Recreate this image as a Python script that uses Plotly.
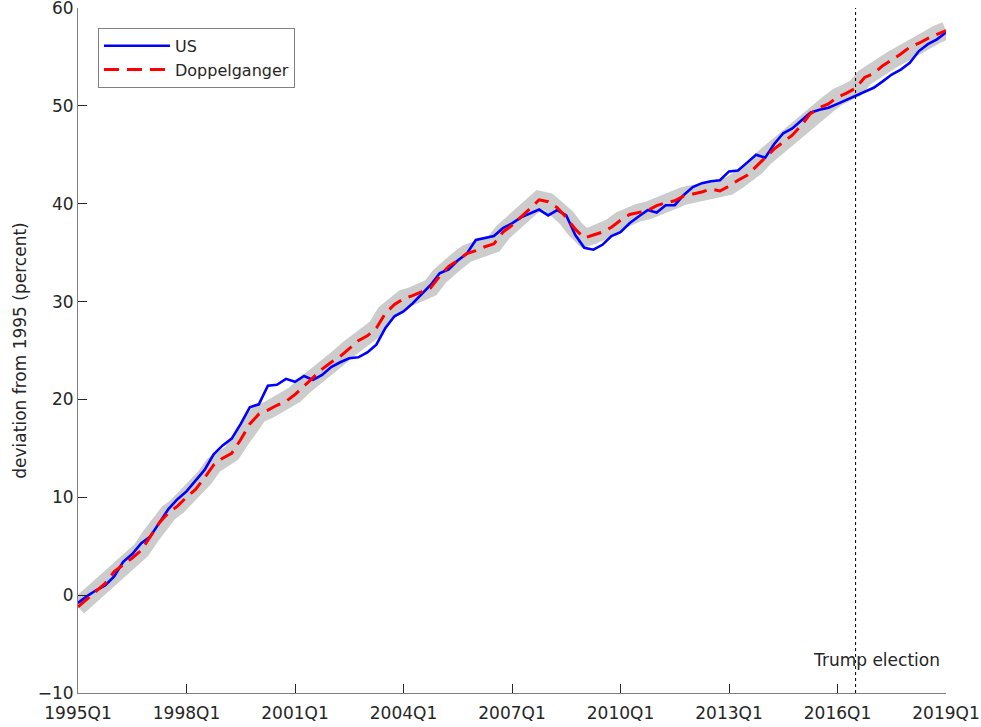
import plotly.graph_objects as go

tick_labels = ["1995Q1", "1998Q1", "2001Q1", "2004Q1", "2007Q1", "2010Q1", "2013Q1", "2016Q1", "2019Q1"]
quarters = list(range(97))  # 1995Q1 .. 2019Q1

us = [-0.8, -0.1, 0.5, 1.0, 1.9, 3.4, 4.2, 5.3, 6.0, 7.4,
      8.8, 9.8, 10.6, 11.7, 12.8, 14.4, 15.3, 16.0, 17.5, 19.2,
      19.5, 21.4, 21.5, 22.1, 21.8, 22.4, 22.0, 22.5, 23.3, 23.8,
      24.2, 24.3, 24.8, 25.6, 27.3, 28.5, 29.0, 29.8, 30.7, 31.7,
      32.9, 33.3, 34.2, 34.9, 36.3, 36.5, 36.7, 37.5, 38.0, 38.6,
      39.0, 39.4, 38.8, 39.35, 38.8, 36.8, 35.5, 35.3, 35.8, 36.7,
      37.1, 38.0, 38.7, 39.35, 39.1, 39.85, 39.85, 40.9, 41.7, 42.1,
      42.3, 42.4, 43.3, 43.4, 44.2, 45.0, 44.7, 46.1, 47.2, 47.7,
      48.5, 49.3, 49.6, 49.8, 50.2, 50.6, 51.0, 51.4, 51.85, 52.5,
      53.2, 53.7, 54.4, 55.6, 56.3, 56.8, 57.5]

doppel = [-1.2, -0.4, 0.5, 1.2, 2.4, 3.1, 3.8, 4.6, 6.0, 7.4,
          8.4, 9.1, 10.0, 10.8, 12.0, 13.3, 14.0, 14.5, 15.9, 17.5,
          18.5, 18.9, 19.4, 19.8, 20.5, 21.4, 22.3, 23.1, 23.8, 24.4,
          25.2, 26.0, 26.5, 27.3, 28.8, 29.7, 30.3, 30.6, 31.0, 31.4,
          32.6, 33.6, 34.2, 34.9, 35.2, 35.6, 35.9, 37.1, 37.8, 38.6,
          39.5, 40.4, 40.2, 39.6, 38.6, 37.4, 36.5, 36.8, 37.1, 37.6,
          38.3, 38.9, 39.1, 39.3, 39.8, 40.1, 40.3, 40.8, 41.0, 41.2,
          41.5, 41.3, 41.8, 42.4, 42.9, 43.8, 44.8, 45.6, 46.3, 47.0,
          48.0, 49.2, 49.8, 50.2, 50.9, 51.3, 51.8, 52.9, 53.3, 54.1,
          54.7, 55.3, 56.0, 56.4, 56.9, 57.3, 57.7]

election_q = 86  # 2016Q3

font = "DejaVu Sans, Liberation Sans, sans-serif"
fig = go.Figure()

fig.add_trace(go.Scatter(x=quarters, y=doppel, mode="lines",
                         line=dict(color="#cccccc", width=18),
                         showlegend=False, hoverinfo="skip"))
fig.add_trace(go.Scatter(x=quarters, y=us, mode="lines", name="US",
                         line=dict(color="#0000ff", width=2.6)))
fig.add_trace(go.Scatter(x=quarters, y=doppel, mode="lines", name="Doppelganger",
                         line=dict(color="#ff0000", width=3, dash="15px,8px")))

fig.add_shape(type="line", x0=election_q, x1=election_q, y0=-10, y1=60,
              xref="x", yref="y", line=dict(color="black", width=1, dash="dot"))
fig.add_annotation(x=88.3, y=-6.6, text="Trump election", showarrow=False,
                   font=dict(size=17, color="#262626", family=font))

fig.update_layout(
    width=981, height=727,
    margin=dict(l=78, r=35, t=8, b=34),
    plot_bgcolor="white", paper_bgcolor="white",
    font=dict(family=font, size=17, color="#262626"),
    legend=dict(x=0.023, y=0.971, xanchor="left", yanchor="top",
                bordercolor="#808080", borderwidth=1, bgcolor="white",
                font=dict(size=16), itemwidth=66, tracegroupgap=0),
    xaxis=dict(range=[0, 96], tickvals=list(range(0, 97, 12)), ticktext=tick_labels,
               showgrid=False, zeroline=False, showline=True, linecolor="#808080",
               linewidth=1, ticks="inside", ticklen=9, tickcolor="#262626",
               tickfont=dict(size=17), automargin=False, ticklabelstandoff=5,
               ticklabeloverflow="allow"),
    yaxis=dict(range=[-10, 60], tickvals=list(range(-10, 61, 10)),
               showgrid=False, zeroline=False, showline=True, linecolor="#808080",
               linewidth=1, ticks="inside", ticklen=9, tickcolor="#262626",
               tickfont=dict(size=17), automargin=False, ticklabeloverflow="allow",
               title=dict(text="deviation from 1995 (percent)", font=dict(size=17), standoff=6)),
)

fig.write_html("out.html", config={"displayModeBar": False},
               post_script="document.body.style.margin='0';document.body.style.overflow='hidden';")
